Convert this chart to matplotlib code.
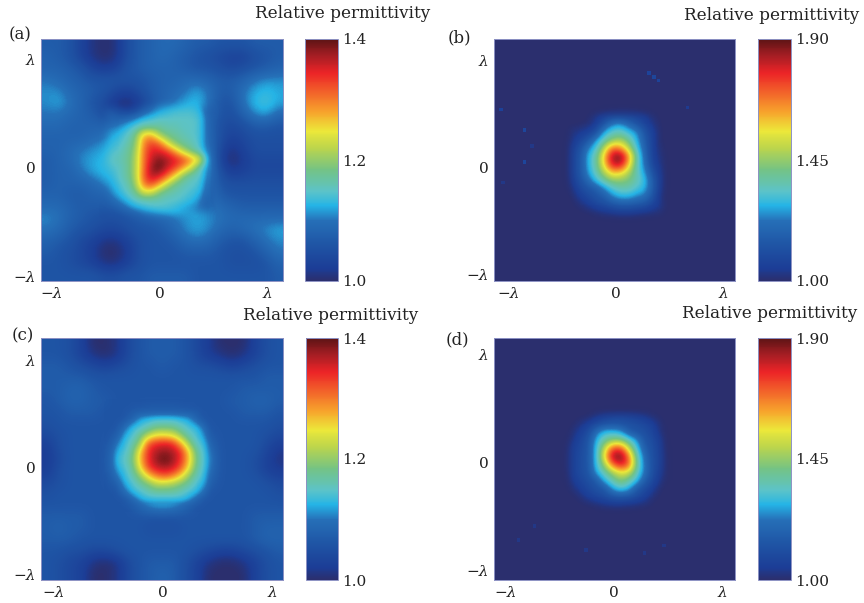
import numpy as np
import matplotlib
matplotlib.use("Agg")
import matplotlib.pyplot as plt
from matplotlib.colors import LinearSegmentedColormap, Normalize

# permittivity above 1, in hundredths, rows from top to bottom
PERM_A = [
    [7, 7, 6, 3, 1, 0, 1, 5, 7, 8, 9, 9, 8, 7, 7, 6, 6, 6, 7, 7, 7],
    [8, 7, 6, 3, 1, 0, 1, 5, 7, 8, 9, 8, 7, 6, 5, 4, 3, 3, 5, 6, 7],
    [8, 8, 7, 6, 3, 2, 3, 6, 7, 8, 8, 8, 7, 6, 6, 5, 4, 5, 6, 7, 8],
    [10, 9, 8, 7, 6, 6, 6, 6, 6, 7, 8, 8, 9, 9, 8, 7, 7, 8, 10, 11, 11],
    [11, 11, 9, 8, 7, 6, 4, 3, 5, 7, 8, 9, 10, 12, 10, 7, 7, 10, 12, 13, 12],
    [11, 12, 10, 8, 6, 4, 1, 0, 2, 6, 8, 10, 12, 13, 10, 6, 6, 10, 13, 14, 12],
    [10, 10, 9, 8, 7, 5, 3, 2, 5, 8, 12, 13, 14, 13, 10, 6, 5, 8, 11, 12, 9],
    [9, 9, 8, 8, 8, 8, 7, 8, 11, 14, 15, 16, 16, 14, 9, 5, 4, 5, 7, 7, 6],
    [8, 8, 8, 8, 9, 10, 11, 13, 18, 25, 27, 22, 18, 15, 10, 5, 3, 4, 5, 5, 5],
    [8, 8, 9, 10, 11, 12, 14, 16, 24, 34, 32, 31, 25, 18, 11, 4, 1, 3, 5, 5, 5],
    [7, 8, 9, 11, 12, 13, 14, 17, 26, 38, 40, 38, 34, 26, 13, 3, 0, 2, 4, 4, 4],
    [7, 8, 8, 10, 12, 13, 14, 17, 26, 38, 39, 34, 26, 20, 12, 5, 2, 3, 4, 4, 4],
    [7, 8, 8, 8, 9, 11, 13, 15, 24, 36, 33, 26, 20, 16, 11, 6, 5, 5, 5, 5, 5],
    [8, 8, 7, 7, 8, 8, 10, 13, 17, 25, 23, 18, 16, 14, 11, 7, 6, 6, 6, 6, 6],
    [9, 9, 8, 7, 7, 7, 7, 9, 11, 13, 14, 14, 13, 12, 11, 9, 8, 7, 7, 7, 7],
    [11, 10, 8, 7, 6, 5, 5, 6, 7, 8, 9, 10, 11, 12, 11, 10, 9, 9, 9, 9, 9],
    [10, 9, 7, 6, 5, 4, 4, 5, 6, 6, 7, 9, 11, 12, 11, 9, 8, 9, 10, 11, 12],
    [8, 7, 6, 4, 3, 1, 1, 3, 5, 6, 6, 7, 9, 10, 9, 7, 6, 6, 8, 10, 11],
    [7, 6, 5, 4, 2, 0, 0, 2, 5, 6, 6, 6, 7, 7, 7, 6, 5, 5, 6, 8, 10],
    [6, 6, 5, 4, 3, 1, 1, 3, 5, 6, 6, 6, 6, 6, 6, 6, 5, 5, 5, 6, 8],
    [6, 6, 6, 6, 6, 5, 5, 6, 6, 7, 7, 7, 7, 6, 6, 6, 6, 6, 6, 6, 7],
]
PERM_C = [
    [6, 6, 5, 3, 0, 0, 1, 4, 6, 7, 7, 7, 6, 4, 2, 0, 0, 0, 3, 5, 6],
    [6, 6, 5, 3, 1, 0, 1, 4, 6, 7, 7, 7, 6, 4, 2, 1, 0, 1, 3, 5, 6],
    [7, 7, 6, 5, 4, 3, 4, 5, 6, 6, 7, 6, 6, 5, 5, 4, 3, 4, 5, 6, 6],
    [7, 7, 7, 7, 6, 6, 6, 6, 6, 6, 6, 6, 6, 6, 6, 6, 6, 6, 6, 7, 7],
    [7, 7, 8, 8, 7, 6, 6, 6, 6, 6, 6, 6, 6, 6, 6, 6, 6, 7, 7, 7, 7],
    [6, 7, 8, 8, 7, 7, 6, 6, 6, 6, 6, 6, 6, 6, 6, 6, 7, 7, 8, 8, 7],
    [6, 6, 7, 7, 7, 6, 6, 6, 7, 8, 8, 8, 7, 6, 6, 6, 6, 7, 7, 7, 6],
    [5, 6, 6, 6, 6, 6, 6, 8, 11, 13, 13, 13, 11, 8, 6, 6, 6, 6, 6, 6, 5],
    [4, 5, 6, 6, 6, 6, 7, 12, 15, 19, 21, 19, 15, 12, 7, 6, 6, 6, 6, 5, 4],
    [2, 5, 6, 6, 6, 6, 9, 14, 23, 31, 34, 31, 23, 14, 9, 6, 6, 6, 6, 4, 2],
    [2, 4, 6, 6, 6, 6, 11, 16, 26, 37, 40, 37, 26, 16, 11, 6, 6, 6, 5, 3, 1],
    [2, 5, 6, 6, 6, 6, 10, 15, 25, 34, 36, 34, 25, 15, 10, 6, 6, 6, 5, 3, 2],
    [4, 5, 6, 6, 6, 6, 8, 13, 19, 25, 27, 25, 19, 13, 8, 6, 6, 6, 6, 5, 4],
    [5, 6, 6, 6, 6, 6, 6, 10, 14, 16, 17, 16, 14, 10, 6, 6, 6, 6, 6, 6, 5],
    [6, 6, 6, 6, 6, 6, 6, 6, 9, 12, 13, 12, 9, 6, 6, 6, 6, 6, 6, 6, 6],
    [7, 7, 7, 7, 6, 6, 6, 6, 6, 6, 6, 6, 6, 6, 6, 6, 6, 6, 7, 7, 7],
    [7, 8, 7, 7, 6, 6, 6, 6, 6, 5, 5, 5, 6, 6, 6, 6, 6, 6, 7, 8, 8],
    [7, 7, 7, 6, 6, 6, 6, 6, 6, 6, 6, 6, 6, 6, 6, 6, 6, 6, 7, 8, 8],
    [6, 6, 5, 5, 4, 4, 5, 6, 6, 6, 6, 6, 6, 5, 4, 3, 3, 4, 5, 6, 7],
    [6, 5, 4, 3, 1, 0, 1, 4, 6, 7, 7, 7, 5, 3, 1, 0, 0, 1, 3, 5, 6],
    [6, 5, 4, 3, 0, 0, 1, 4, 6, 7, 8, 7, 5, 3, 0, 0, 0, 0, 3, 5, 6],
]
# finer readings around the centre of each panel
CENTRE_A = [
    [7, 5, 3, 1, 3, 7, 9, 11, 12, 12, 13, 13, 12, 7, 5],
    [8, 7, 5, 4, 5, 8, 10, 12, 13, 14, 14, 14, 13, 8, 5],
    [9, 8, 8, 9, 11, 13, 14, 15, 15, 15, 15, 15, 14, 9, 6],
    [10, 10, 11, 13, 15, 17, 17, 17, 16, 16, 15, 15, 14, 9, 6],
    [11, 12, 13, 15, 18, 27, 28, 21, 18, 17, 16, 15, 14, 9, 6],
    [12, 13, 14, 16, 19, 29, 33, 31, 24, 19, 17, 16, 14, 9, 5],
    [13, 14, 15, 17, 20, 30, 35, 35, 33, 28, 22, 18, 15, 10, 5],
    [14, 15, 16, 17, 21, 30, 36, 39, 37, 35, 33, 29, 25, 12, 5],
    [13, 14, 15, 17, 21, 30, 38, 40, 36, 33, 28, 23, 16, 11, 5],
    [12, 13, 15, 17, 21, 31, 37, 36, 31, 25, 19, 16, 15, 10, 5],
    [11, 12, 14, 16, 20, 30, 33, 28, 22, 18, 16, 15, 14, 9, 5],
    [9, 11, 13, 15, 18, 24, 24, 19, 17, 16, 15, 14, 13, 8, 5],
    [8, 9, 11, 13, 15, 16, 16, 16, 15, 15, 14, 13, 11, 7, 5],
    [6, 7, 8, 10, 12, 13, 14, 14, 14, 13, 12, 11, 10, 7, 5],
    [5, 5, 6, 7, 8, 10, 11, 12, 12, 12, 11, 11, 10, 7, 6],
]
CENTRE_C = [
    [6, 6, 6, 6, 6, 6, 6, 6, 6, 6, 6, 6, 6, 6],
    [6, 6, 6, 7, 7, 7, 7, 7, 7, 7, 7, 7, 6, 6],
    [6, 6, 6, 8, 12, 13, 14, 14, 14, 13, 12, 8, 6, 6],
    [6, 6, 9, 13, 14, 16, 18, 18, 18, 16, 14, 13, 9, 6],
    [6, 7, 12, 14, 18, 22, 25, 25, 24, 20, 16, 14, 11, 6],
    [6, 10, 13, 16, 20, 32, 34, 35, 34, 28, 20, 15, 13, 8],
    [7, 12, 14, 17, 26, 34, 37, 38, 37, 34, 26, 17, 14, 9],
    [7, 13, 15, 18, 27, 34, 38, 40, 38, 34, 27, 18, 14, 10],
    [7, 12, 14, 17, 25, 33, 36, 37, 36, 32, 25, 17, 14, 9],
    [6, 10, 13, 16, 20, 26, 30, 32, 30, 26, 20, 16, 13, 8],
    [6, 7, 12, 14, 17, 19, 22, 22, 21, 19, 17, 14, 12, 7],
    [6, 6, 9, 13, 14, 16, 17, 17, 17, 16, 14, 13, 9, 6],
    [6, 6, 6, 8, 12, 13, 13, 13, 13, 13, 12, 8, 6, 6],
    [6, 6, 6, 6, 6, 7, 7, 7, 7, 7, 6, 6, 6, 6],
]
# b and d are flat at 1.00 apart from the central blob
CENTRE_B = [
    [0, 0, 0, 0, 0, 0, 1, 2, 2, 1, 0, 0, 0, 0],
    [0, 0, 0, 0, 3, 7, 10, 10, 9, 8, 5, 1, 0, 0],
    [0, 0, 0, 1, 5, 14, 24, 26, 20, 13, 8, 3, 0, 0],
    [0, 2, 4, 6, 12, 28, 34, 36, 30, 26, 13, 6, 0, 0],
    [0, 3, 8, 14, 26, 36, 44, 48, 40, 28, 16, 6, 0, 0],
    [0, 6, 12, 24, 32, 50, 70, 66, 50, 32, 18, 6, 1, 0],
    [0, 7, 14, 28, 38, 60, 85, 90, 66, 38, 20, 6, 2, 0],
    [0, 7, 14, 28, 38, 58, 80, 82, 60, 36, 22, 8, 3, 0],
    [0, 7, 14, 26, 36, 48, 60, 58, 48, 36, 26, 12, 4, 0],
    [0, 5, 12, 20, 30, 38, 44, 44, 42, 36, 30, 16, 5, 0],
    [0, 2, 9, 13, 16, 24, 32, 36, 36, 32, 28, 16, 4, 0],
    [0, 0, 5, 9, 13, 16, 24, 28, 28, 24, 22, 13, 2, 0],
    [0, 0, 1, 4, 8, 10, 13, 15, 15, 14, 12, 7, 4, 0],
    [0, 0, 0, 0, 1, 3, 4, 6, 6, 4, 3, 2, 1, 0],
    [0, 0, 0, 0, 0, 0, 0, 0, 0, 0, 0, 0, 0, 0],
]
CENTRE_D = [
    [0, 0, 0, 0, 0, 0, 0, 0, 0, 0, 0, 0, 0, 0],
    [0, 0, 0, 0, 3, 6, 8, 9, 8, 6, 4, 1, 0, 0],
    [0, 0, 2, 6, 10, 13, 14, 13, 12, 11, 9, 6, 1, 0],
    [0, 1, 6, 10, 22, 30, 30, 28, 16, 13, 11, 8, 2, 0],
    [0, 3, 8, 13, 28, 38, 44, 44, 36, 26, 13, 10, 5, 0],
    [1, 6, 9, 14, 30, 50, 72, 75, 52, 32, 16, 11, 6, 0],
    [2, 6, 10, 14, 30, 56, 85, 90, 70, 38, 20, 11, 7, 1],
    [2, 6, 10, 14, 30, 46, 68, 80, 72, 40, 22, 11, 7, 1],
    [1, 6, 10, 13, 27, 36, 46, 54, 52, 36, 22, 11, 5, 1],
    [0, 4, 8, 11, 15, 28, 36, 44, 38, 30, 16, 9, 3, 0],
    [0, 1, 5, 9, 12, 14, 26, 32, 28, 15, 10, 5, 0, 0],
    [0, 0, 1, 5, 8, 10, 13, 14, 13, 10, 6, 1, 0, 0],
    [0, 0, 0, 0, 1, 3, 4, 4, 3, 2, 1, 0, 0, 0],
    [0, 0, 0, 0, 0, 0, 0, 0, 0, 0, 0, 0, 0, 0],
]
# faint isolated cells outside the blobs
SPECK_B_X = [-1.07, -0.85, -0.85, -0.78, -1.05, 0.31, 0.36, 0.40, 0.67]
SPECK_B_Y = [0.54, 0.35, 0.05, 0.20, -0.14, 0.88, 0.84, 0.81, 0.56]
SPECK_B_V = [6, 8, 8, 3, 3, 7, 8, 7, 4]
SPECK_D_X = [-0.73, -0.88, -0.26, 0.46, 0.28]
SPECK_D_Y = [-0.59, -0.72, -0.81, -0.77, -0.84]
SPECK_D_V = [3, 3, 3, 3, 3]

TICKS_LOW = [1.0, 1.2, 1.4]
TICK_LABELS_LOW = ["1.0", "1.2", "1.4"]
TICKS_HIGH = [1.0, 1.45, 1.9]
TICK_LABELS_HIGH = ["1.00", "1.45", "1.90"]
AXIS_TICKS = [-1, 0, 1]
X_LABELS = ["\u2212\u03bb", "0", "\u03bb"]
Y_LABELS = ["\u2212\u03bb", "0", "\u03bb"]

plt.rcParams["font.family"] = ["DejaVu Serif"]
TEXT_COLOR = "#222222"
EDGE_COLOR = "#8d92c4"

cmap = LinearSegmentedColormap.from_list("perm", [
    (0.00, "#2b2f6e"), (0.05, "#1c3d96"), (0.15, "#1f55a5"), (0.25, "#2670b8"),
    (0.31, "#25b4e6"), (0.37, "#5cc3c8"), (0.46, "#74c384"), (0.55, "#bcd54c"),
    (0.62, "#ece83a"), (0.70, "#f7a32c"), (0.78, "#f2632a"), (0.86, "#ec2427"),
    (0.93, "#a81e24"), (1.00, "#5e1415"),
])

W, H = 864, 603
fig = plt.figure(figsize=(W / 100, H / 100), dpi=100, facecolor="white")


def rect(x0, y0, x1, y1):
    return [x0 / W, 1 - y1 / H, (x1 - x0) / W, (y1 - y0) / H]


def panel(box, cbox, xlim, ylim, vmax, ticks, tick_labels, centre, centre_ext, grid=None, specks=None):
    norm = Normalize(1.0, vmax)
    ax = fig.add_axes(rect(*box))
    ax.set_facecolor(cmap(0.0))
    if grid is not None:
        ax.imshow(1 + np.array(grid) / 100, cmap=cmap, norm=norm,
                  extent=[xlim[0], xlim[1], ylim[0], ylim[1]],
                  aspect="auto", interpolation="bicubic", origin="upper")
    centre = np.array(centre)
    # fade the outer ring so the finer patch sits in the coarse grid without a seam
    fade = np.ones(centre.shape)
    fade[[0, -1], :] = 0
    fade[:, [0, -1]] = 0
    im = ax.imshow(1 + centre / 100, cmap=cmap, norm=norm, extent=centre_ext, alpha=fade,
                   aspect="auto", interpolation="bicubic", origin="upper")
    if specks:
        ax.scatter(specks[0], specks[1], c=1 + np.array(specks[2]) / 100, cmap=cmap,
                   norm=norm, s=7, marker="s", linewidths=0)
    ax.set_xlim(xlim)
    ax.set_ylim(ylim)
    ax.set_xticks(AXIS_TICKS, X_LABELS)
    ax.set_yticks(AXIS_TICKS, Y_LABELS)
    ax.tick_params(length=0, labelsize=11, pad=4, colors=TEXT_COLOR)
    for lab in ax.get_xticklabels() + ax.get_yticklabels():
        if lab.get_text() != "0":
            lab.set_fontstyle("italic")
    for s in ax.spines.values():
        s.set_color(EDGE_COLOR)
        s.set_linewidth(0.7)

    cax = fig.add_axes(rect(*cbox))
    cb = fig.colorbar(plt.cm.ScalarMappable(norm=norm, cmap=cmap), cax=cax)
    cb.set_ticks(ticks, labels=tick_labels)
    cb.ax.tick_params(length=0, labelsize=11, pad=3, colors=TEXT_COLOR)
    cb.outline.set_edgecolor(EDGE_COLOR)
    cb.outline.set_linewidth(0.7)


panel((41, 39, 283, 281), (305, 39, 338, 281), (-1.096, 1.142), (-1.046, 1.185),
      1.4, TICKS_LOW, TICK_LABELS_LOW, CENTRE_A, [-0.556, 0.556, -0.483, 0.625], grid=PERM_A)
panel((494, 39, 735, 281), (758, 39, 791, 281), (-1.134, 1.112), (-1.056, 1.196),
      1.9, TICKS_HIGH, TICK_LABELS_HIGH, CENTRE_B, [-0.522, 0.522, -0.534, 0.584],
      specks=(SPECK_B_X, SPECK_B_Y, SPECK_B_V))
panel((41, 338, 283, 580), (306, 338, 338, 580), (-1.116, 1.10), (-1.053, 1.2125),
      1.4, TICKS_LOW, TICK_LABELS_LOW, CENTRE_C, [-0.535, 0.493, -0.415, 0.634], grid=PERM_C)
panel((494, 338, 735, 580), (758, 338, 791, 580), (-1.104, 1.113), (-1.09, 1.148),
      1.9, TICKS_HIGH, TICK_LABELS_HIGH, CENTRE_D, [-0.50, 0.531, -0.506, 0.53],
      specks=(SPECK_D_X, SPECK_D_Y, SPECK_D_V))

for x, y in [(255, 14), (684, 16), (243, 315), (682, 314)]:
    fig.text(x / W, 1 - y / H, "Relative permittivity", fontsize=12.2, ha="left", va="center",
             color=TEXT_COLOR)
for label, x, y in [("(a)", 9, 35), ("(b)", 448, 38), ("(c)", 12, 336), ("(d)", 446, 340)]:
    fig.text(x / W, 1 - y / H, label, fontsize=12, ha="left", va="center", color=TEXT_COLOR)

fig.savefig("out.png", dpi=100)
